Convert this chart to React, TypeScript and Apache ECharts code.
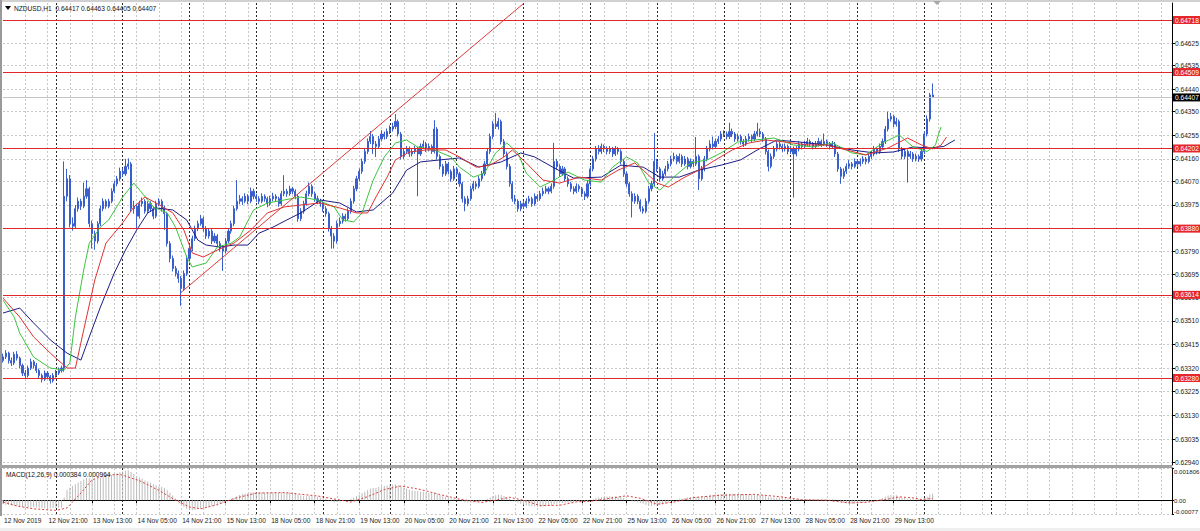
import React, { useEffect, useRef } from "react";
import * as echarts from "echarts";

const FONT = "'Liberation Sans', Arial, sans-serif";

const symbolTitle = "NZDUSD,H1";
const headerQuote = ["0.64417", "0.64463", "0.64405", "0.64407"];
const macdTitle = "MACD(12,26,9)";
const macdQuote = ["0.000384", "0.000964"];
const firstTimeLabel = "12 Nov 2019";

const tradingDays = ["12 Nov", "13 Nov", "14 Nov", "15 Nov", "18 Nov", "19 Nov", "20 Nov", "21 Nov", "22 Nov", "25 Nov", "26 Nov", "27 Nov", "28 Nov", "29 Nov", "2 Dec", "3 Dec", "4 Dec", "5 Dec"];
const firstDayStartHour = 5;
const slotCount = 421;
const lastSeparatorDay = "3 Dec";

// prices in points: value = 0.6 + p * 0.00001
const priceBase = 0.6;
const pointSize = 0.00001;

const opens = [
  3350,3365,3380,3350,3340,3375,3360,3330,3300,3290,
  3320,3345,3330,3310,3290,3275,3300,3285,3270,3290,
  3300,3310,3320,4010,4080,3900,3890,3960,3990,3970,
  4010,4040,3900,3860,3830,3900,3960,3990,3970,3990,
  4030,4060,4080,4110,4100,4130,4140,3960,3970,3930,
  3980,3990,3950,3980,3960,3930,3980,3990,3960,3940,
  3820,3760,3720,3700,3680,3640,3700,3760,3800,3840,
  3880,3900,3920,3880,3850,3870,3830,3850,3820,3800,
  3790,3830,3870,3900,3960,3990,4000,3990,4010,3990,
  4030,4010,4000,3990,4010,4000,3980,4000,4010,4000,
  3980,4020,4030,4020,4040,4030,4010,3920,3950,3980,
  4020,4050,4020,4000,3990,3980,3960,3940,3880,3850,
  3830,3900,3910,3930,3920,3950,3990,4040,4080,4110,
  4150,4190,4230,4250,4220,4210,4240,4260,4250,4270,
  4280,4290,4310,4260,4170,4190,4200,4180,4190,4200,
  4180,4210,4220,4200,4210,4190,4280,4170,4130,4100,
  4140,4110,4080,4120,4100,4060,4000,3980,4000,4040,
  4060,4050,4080,4100,4140,4190,4250,4300,4290,4310,
  4230,4180,4130,4060,4000,3990,3960,3980,3970,3990,
  4000,3980,4010,4000,4020,4030,4040,4030,4050,4150,
  4130,4100,4120,4080,4060,4040,4030,4050,4040,4020,
  4010,4060,4120,4160,4200,4190,4210,4200,4190,4200,
  4180,4200,4190,4150,4100,4060,4020,3990,4010,3990,
  3960,3950,3990,4040,4060,4150,4120,4080,4100,4120,
  4140,4160,4170,4150,4170,4140,4160,4130,4150,4140,
  4170,4080,4120,4160,4200,4220,4210,4230,4240,4260,
  4260,4250,4270,4260,4240,4250,4230,4220,4240,4250,
  4240,4260,4270,4260,4240,4190,4130,4170,4200,4220,
  4210,4200,4210,4190,4200,4180,4200,4220,4210,4220,
  4230,4220,4210,4220,4230,4220,4230,4220,4210,4220,
  4180,4120,4090,4110,4130,4140,4130,4150,4140,4150,
  4160,4150,4170,4180,4200,4190,4210,4230,4280,4320,
  4330,4300,4310,4200,4170,4190,4170,4180,4160,4170,
  4160,4190,4260,4320,4417
];
const closes = [
  3365,3380,3350,3340,3375,3360,3330,3300,3290,3320,
  3345,3330,3310,3290,3275,3300,3285,3270,3290,3300,
  3310,3320,4010,4080,3900,3890,3960,3990,3970,4010,
  4040,3900,3860,3830,3900,3960,3990,3970,3990,4030,
  4060,4080,4110,4100,4130,4140,3960,3970,3930,3980,
  3990,3950,3980,3960,3930,3980,3990,3960,3940,3820,
  3760,3720,3700,3680,3640,3700,3760,3800,3840,3880,
  3900,3920,3880,3850,3870,3830,3850,3820,3800,3790,
  3830,3870,3900,3960,3990,4000,3990,4010,3990,4030,
  4010,4000,3990,4010,4000,3980,4000,4010,4000,3980,
  4020,4030,4020,4040,4030,4010,3920,3950,3980,4020,
  4050,4020,4000,3990,3980,3960,3940,3880,3850,3830,
  3900,3910,3930,3920,3950,3990,4040,4080,4110,4150,
  4190,4230,4250,4220,4210,4240,4260,4250,4270,4280,
  4290,4310,4260,4170,4190,4200,4180,4190,4200,4180,
  4210,4220,4200,4210,4190,4280,4170,4130,4100,4140,
  4110,4080,4120,4100,4060,4000,3980,4000,4040,4060,
  4050,4080,4100,4140,4190,4250,4300,4290,4310,4230,
  4180,4130,4060,4000,3990,3960,3980,3970,3990,4000,
  3980,4010,4000,4020,4030,4040,4030,4050,4150,4130,
  4100,4120,4080,4060,4040,4030,4050,4040,4020,4010,
  4060,4120,4160,4200,4190,4210,4200,4190,4200,4180,
  4200,4190,4150,4100,4060,4020,3990,4010,3990,3960,
  3950,3990,4040,4060,4150,4120,4080,4100,4120,4140,
  4160,4170,4150,4170,4140,4160,4130,4150,4140,4170,
  4080,4120,4160,4200,4220,4210,4230,4240,4260,4260,
  4250,4270,4260,4240,4250,4230,4220,4240,4250,4240,
  4260,4270,4260,4240,4190,4130,4170,4200,4220,4210,
  4200,4210,4190,4200,4180,4200,4220,4210,4220,4230,
  4220,4210,4220,4230,4220,4230,4220,4210,4220,4180,
  4120,4090,4110,4130,4140,4130,4150,4140,4150,4160,
  4150,4170,4180,4200,4190,4210,4230,4280,4320,4330,
  4300,4310,4200,4170,4190,4170,4180,4160,4170,4160,
  4190,4260,4320,4417,4407
];
const highs = [
  3378,3392,3386,3362,3385,3388,3366,3338,3312,3330,
  3358,3352,3340,3318,3298,3310,3308,3292,3300,3312,
  3322,3330,4150,4120,4095,3925,3975,4005,4000,4065,
  4075,4048,3912,3872,3910,3972,4002,3998,4000,4042,
  4072,4092,4125,4122,4160,4162,4148,3992,3980,3992,
  4005,3998,3990,3990,3968,3992,4002,3998,3972,3948,
  3830,3772,3730,3712,3690,3712,3772,3812,3852,3892,
  3912,3935,3928,3890,3882,3878,3862,3858,3830,3812,
  3842,3882,3912,3972,4075,4015,4010,4022,4018,4045,
  4040,4020,4010,4022,4018,4008,4012,4024,4018,4008,
  4032,4095,4040,4052,4048,4038,4018,3962,3992,4032,
  4065,4058,4028,4012,4000,3990,3970,3948,3890,3862,
  3912,3925,3942,3940,3962,4002,4052,4092,4122,4162,
  4202,4242,4272,4260,4232,4252,4275,4270,4282,4295,
  4305,4340,4318,4268,4202,4212,4210,4202,4212,4208,
  4222,4235,4228,4222,4218,4316,4288,4178,4140,4152,
  4148,4118,4132,4128,4108,4068,4010,4012,4052,4072,
  4070,4092,4112,4152,4202,4262,4312,4345,4325,4318,
  4240,4190,4140,4070,4015,3998,3992,3990,4002,4012,
  4008,4022,4018,4032,4045,4052,4048,4062,4224,4160,
  4138,4132,4128,4090,4068,4050,4062,4058,4048,4030,
  4072,4132,4172,4212,4215,4222,4218,4210,4212,4208,
  4212,4208,4198,4158,4110,4068,4030,4022,4018,3998,
  3970,4002,4052,4072,4264,4160,4128,4112,4132,4152,
  4172,4185,4178,4182,4178,4172,4168,4162,4158,4248,
  4178,4132,4172,4212,4235,4250,4242,4252,4272,4275,
  4270,4305,4282,4268,4262,4258,4240,4252,4262,4258,
  4272,4305,4282,4268,4248,4198,4182,4212,4232,4228,
  4220,4222,4218,4212,4210,4212,4232,4228,4232,4245,
  4238,4228,4232,4245,4238,4262,4238,4228,4232,4228,
  4188,4128,4122,4142,4155,4148,4162,4158,4162,4172,
  4168,4182,4192,4212,4208,4222,4242,4292,4350,4345,
  4338,4325,4318,4208,4202,4198,4192,4188,4182,4178,
  4202,4272,4335,4425,4463
];
const lows = [
  3342,3356,3338,3328,3332,3350,3320,3288,3278,3282,
  3312,3318,3300,3280,3262,3268,3276,3258,3262,3282,
  3292,3302,3305,3990,3885,3872,3880,3948,3955,3962,
  4000,3885,3800,3795,3820,3890,3950,3960,3962,3982,
  4022,4050,4072,4088,4092,4118,3948,3940,3878,3920,
  3968,3940,3942,3948,3918,3922,3970,3948,3875,3808,
  3745,3708,3688,3662,3570,3630,3690,3750,3790,3830,
  3870,3892,3868,3838,3840,3818,3822,3808,3788,3710,
  3780,3822,3860,3890,3952,3978,3975,3982,3978,3982,
  3998,3988,3978,3982,3988,3966,3972,3990,3988,3968,
  3972,4010,4008,4012,4018,3998,3908,3910,3940,3972,
  4010,4008,3988,3978,3968,3948,3928,3868,3800,3800,
  3820,3888,3900,3908,3912,3940,3980,4030,4070,4100,
  4140,4180,4220,4180,4168,4200,4230,4238,4240,4260,
  4270,4280,4250,4158,4160,4180,4168,4170,4180,4010,
  4172,4200,4188,4190,4180,4182,4158,4118,4088,4092,
  4098,4068,4072,4088,4048,3985,3950,3970,3992,4030,
  4038,4042,4070,4092,4130,4180,4240,4280,4278,4218,
  4168,4118,4048,3988,3978,3948,3950,3958,3962,3980,
  3968,3972,3988,3992,4010,4020,4018,4022,4040,4118,
  4088,4092,4068,4048,4028,4018,4022,4028,4008,3995,
  4002,4050,4110,4150,4178,4180,4188,4178,4180,4168,
  4172,4178,4138,4088,4048,4008,3925,3980,3978,3948,
  3940,3942,3980,4030,4050,4108,4068,4072,4092,4110,
  4130,4150,4138,4142,4128,4132,4118,4122,4128,4132,
  4035,4072,4110,4150,4190,4198,4200,4220,4230,4248,
  4238,4240,4248,4228,4230,4218,4208,4212,4230,4228,
  4232,4250,4248,4228,4178,4110,4122,4160,4190,4198,
  4188,4190,4178,4180,4005,4170,4190,4198,4200,4210,
  4208,4198,4200,4210,4208,4212,4208,4198,4200,4168,
  4108,4060,4080,4100,4120,4118,4122,4128,4130,4140,
  4138,4142,4160,4170,4178,4180,4200,4220,4270,4310,
  4288,4290,4188,4158,4160,4065,4160,4148,4150,4148,
  4150,4180,4250,4310,4405
];

// Alligator lines: [bar index, points]
const jawSamples: [number, number][] = [
  [0,3541],[6,3561],[11,3501],[17,3433],[23,3380],[28,3352],[31,3445],[35,3565],[40,3702],[44,3794],
  [48,3874],[52,3943],[55,3963],[61,3955],[66,3915],[70,3834],[73,3814],[78,3806],[83,3814],[88,3814],
  [92,3862],[97,3886],[102,3915],[107,3943],[114,3995],[121,3983],[127,3947],[133,3955],[140,4023],[145,4115],
  [150,4148],[157,4156],[164,4164],[171,4127],[179,4148],[186,4184],[191,4168],[198,4124],[205,4083],[215,4087],
  [222,4135],[230,4127],[236,4087],[243,4087],[250,4115],[258,4135],[265,4156],[271,4196],[278,4236],[286,4228],
  [296,4216],[305,4196],[313,4184],[320,4188],[327,4208],[333,4204],[338,4210],[342,4236]
];
const teethSamples: [number, number][] = [
  [0,3601],[6,3525],[11,3445],[17,3380],[23,3320],[26,3320],[29,3473],[33,3674],[37,3822],[43,3903],
  [47,3967],[51,4007],[55,3983],[61,3943],[65,3874],[68,3782],[72,3766],[77,3794],[83,3822],[89,3874],
  [95,3943],[101,3967],[107,3975],[114,3983],[121,3963],[127,3943],[131,3943],[134,4007],[138,4087],[141,4156],
  [146,4188],[152,4196],[159,4196],[164,4168],[170,4127],[175,4135],[180,4168],[183,4196],[188,4144],[194,4075],
  [200,4063],[207,4087],[215,4075],[221,4115],[227,4144],[230,4115],[235,4063],[239,4047],[245,4087],[250,4115],
  [256,4156],[262,4196],[268,4224],[274,4236],[281,4228],[289,4216],[296,4216],[303,4196],[310,4176],[318,4204],
  [325,4244],[330,4216],[334,4200],[337,4215],[339,4248]
];
const lipsSamples: [number, number][] = [
  [0,3593],[4,3525],[6,3461],[11,3364],[17,3320],[22,3312],[24,3340],[26,3525],[29,3714],[31,3822],
  [35,3886],[38,3915],[43,4007],[47,4063],[50,4023],[54,3967],[59,3943],[62,3886],[66,3766],[68,3726],
  [73,3742],[77,3806],[82,3822],[85,3846],[90,3955],[95,3983],[101,3995],[107,4007],[113,3995],[119,3967],
  [122,3915],[126,3907],[129,3943],[133,4075],[137,4168],[141,4224],[145,4236],[149,4208],[155,4196],[161,4168],
  [164,4127],[169,4087],[173,4103],[177,4184],[181,4224],[185,4184],[188,4103],[193,4047],[198,4075],[203,4107],
  [209,4075],[215,4067],[219,4127],[224,4168],[228,4144],[232,4063],[236,4035],[241,4087],[247,4144],[253,4156],
  [258,4184],[264,4228],[270,4236],[277,4244],[284,4216],[291,4208],[298,4224],[305,4184],[310,4176],[316,4224],
  [322,4256],[327,4208],[332,4190],[335,4215],[336,4255],[337,4288]
];

const priceTicks = [0.6294, 0.63035, 0.6313, 0.63225, 0.6332, 0.63415, 0.6351, 0.63605, 0.63695, 0.6379, 0.6388, 0.63975, 0.6407, 0.6416, 0.64255, 0.6435, 0.6444, 0.64535, 0.64625];
const priceMin = 0.629306;
const priceMax = 0.647863;
const levels = [0.64718, 0.64509, 0.64202, 0.6388, 0.63614, 0.6328];
const trendStart: [number, number] = [64, 0.63624];
const trendEnd: [number, number] = [187, 0.64784];

// MACD in millionths
const macdUnit = 1e-6;
const macdHist = [
  -230,-250,-270,-300,-300,-310,-330,-360,-390,-400,
  -390,-390,-400,-420,-440,-440,-440,-450,-440,-430,
  -420,-400,150,560,700,800,900,1000,1080,1160,
  1240,1230,1200,1180,1200,1250,1300,1340,1380,1420,
  1470,1520,1570,1610,1650,1700,1580,1480,1360,1280,
  1200,1110,1050,980,900,850,800,740,680,560,
  420,260,100,-60,-230,-380,-480,-540,-560,-540,
  -500,-470,-430,-400,-360,-330,-290,-250,-200,-160,
  -90,-20,50,140,230,300,350,380,400,430,
  440,450,450,450,440,440,440,440,430,420,
  430,430,430,430,420,400,310,260,230,230,
  250,240,220,190,160,130,90,20,-60,-120,
  -100,-70,-30,-10,20,80,160,240,320,400,
  480,570,640,680,700,740,780,800,830,860,
  880,900,860,760,700,650,600,560,530,500,
  480,470,440,420,390,430,360,290,220,190,
  150,100,80,50,0,-60,-110,-130,-130,-120,
  -110,-80,-50,10,80,160,240,280,320,290,
  240,180,100,20,-60,-140,-200,-250,-290,-320,
  -340,-350,-360,-360,-350,-340,-320,-300,-220,-190,
  -170,-150,-140,-130,-120,-110,-100,-90,-90,-80,
  -60,0,60,120,150,180,200,210,220,210,
  210,200,170,120,60,0,-50,-80,-110,-150,
  -200,-250,-290,-320,-300,-290,-280,-240,-180,-120,
  -60,-10,30,60,90,120,150,170,190,200,
  180,190,220,250,280,300,320,340,350,360,
  360,360,360,360,350,350,350,340,330,320,
  310,300,290,280,250,190,170,160,160,150,
  120,110,100,90,70,60,60,60,60,60,
  60,60,60,60,60,60,60,60,60,40,
  -30,-90,-140,-170,-180,-190,-190,-180,-160,-140,
  -120,-90,-60,-20,20,70,130,200,260,300,
  280,280,200,140,120,90,80,60,60,50,
  70,130,210,320,384
];
const macdSignalSamples: [number, number][] = [
  [0,-100],[5,-320],[11,-480],[19,-570],[23,-430],[28,410],[32,1150],[37,1400],[42,1450],[49,1100],
  [56,550],[62,0],[67,-380],[71,-480],[77,-250],[83,100],[91,400],[101,430],[113,240],[125,-100],
  [131,200],[137,600],[143,800],[150,600],[157,320],[164,60],[172,-120],[177,0],[182,170],[187,0],
  [193,-300],[200,-280],[206,-90],[211,-60],[218,110],[224,250],[229,110],[235,-220],[241,-100],[248,150],
  [258,280],[270,330],[279,200],[287,30],[296,0],[304,-150],[310,-120],[317,40],[322,190],[327,130],
  [330,40],[334,110]
];
const macdTicks = [-0.00077, 0, 0.001806];
const macdTickLabels = ["-0.00077", "0.00", "0.001806"];

const toPrice = (p: number) => +(priceBase + p * pointSize).toFixed(5);

function buildCategories(): string[] {
  const out: string[] = [];
  tradingDays.forEach((d, di) => {
    for (let h = di === 0 ? firstDayStartHour : 0; h < 24; h++) {
      if (out.length < slotCount) out.push(`${d} ${String(h).padStart(2, "0")}:00`);
    }
  });
  return out;
}

export default function App() {
  const ref = useRef<HTMLDivElement>(null);
  useEffect(() => {
    if (!ref.current) return;
    const chart = echarts.init(ref.current, null, { renderer: "svg" });
    const cats = buildCategories();
    const barCount = closes.length;
    const lastSepIndex = cats.indexOf(`${lastSeparatorDay} 00:00`);
    const gridInt = (i: number) => i > 0 && i % 8 === 0;
    const sepInt = (i: number, v: string) => i > 0 && i <= lastSepIndex && String(v).endsWith(" 00:00");
    const labelInt = (i: number) => i % 16 === 0 && i < barCount;
    const candles = closes.map((c, i) => [toPrice(opens[i]), toPrice(c), toPrice(lows[i]), toPrice(highs[i])]);
    const toLine = (s: [number, number][]) => s.map(([i, p]) => [i, toPrice(p)]);
    const lastClose = toPrice(closes[barCount - 1]);
    const blue = "#3a5fcd";
    const levelRed = "#e02828";
    const gridLine = { color: "#c9c9c9", type: [2, 2] as number[], width: 1 };
    const sepLine = { color: "#2a2a2a", type: [2, 2] as number[], width: 1 };
    const tagLabel = (bg: string) => ({
      show: true,
      position: "end",
      distance: 1,
      backgroundColor: bg,
      color: "#fff",
      fontSize: 6.6,
      fontFamily: FONT,
      lineHeight: 7,
      padding: [1, 3, 0, 2],
    });
    const hiddenCat = (gridIndex: number, interval: any, line: any, position: string) => ({
      type: "category",
      gridIndex,
      data: cats,
      boundaryGap: false,
      position,
      axisLine: { show: false },
      axisTick: { show: false },
      axisLabel: { show: false },
      splitLine: { show: true, interval, lineStyle: line },
    });
    const option: any = {
      animation: false,
      backgroundColor: "#ffffff",
      textStyle: { fontFamily: FONT },
      grid: [
        { left: 3, top: 3, width: 1169, height: 462, show: false, outerBoundsMode: "none" },
        { left: 3, top: 468, width: 1169, height: 46, show: false, outerBoundsMode: "none" },
      ],
      xAxis: [
        hiddenCat(0, gridInt, gridLine, "bottom"),
        hiddenCat(0, sepInt, sepLine, "top"),
        {
          type: "category",
          gridIndex: 1,
          data: cats,
          boundaryGap: false,
          position: "bottom",
          axisLine: { show: true, lineStyle: { color: "#000", width: 1 } },
          axisTick: { show: true, interval: labelInt, length: 3, lineStyle: { color: "#000" } },
          axisLabel: {
            show: true,
            interval: labelInt,
            formatter: (v: string, i: number) => (i === 0 ? firstTimeLabel : v),
            align: "left",
            fontSize: 6.6,
            color: "#222",
            margin: 3,
            padding: [0, 0, 0, 1],
            fontFamily: FONT,
          },
          splitLine: { show: true, interval: gridInt, lineStyle: gridLine },
        },
        hiddenCat(1, sepInt, sepLine, "top"),
      ],
      yAxis: [
        {
          type: "value",
          gridIndex: 0,
          position: "right",
          min: priceMin,
          max: priceMax,
          axisLine: { show: true, lineStyle: { color: "#000", width: 1 } },
          axisTick: { show: true, length: 3, customValues: priceTicks, lineStyle: { color: "#000" } },
          axisLabel: {
            show: true,
            customValues: priceTicks,
            formatter: (v: number) => v.toFixed(5),
            fontSize: 6.6,
            color: "#222",
            margin: 3,
            fontFamily: FONT,
          },
          splitLine: { show: true, lineStyle: gridLine },
        },
        {
          type: "value",
          gridIndex: 1,
          position: "right",
          min: macdTicks[0],
          max: macdTicks[2],
          axisLine: { show: true, lineStyle: { color: "#000", width: 1 } },
          axisTick: { show: true, length: 2, customValues: macdTicks, lineStyle: { color: "#000" } },
          axisLabel: {
            show: true,
            customValues: macdTicks,
            formatter: (v: number) => {
              const k = macdTicks.findIndex((t) => Math.abs(t - v) < 1e-9);
              return k >= 0 ? macdTickLabels[k] : "";
            },
            verticalAlignMinLabel: "bottom",
            verticalAlignMaxLabel: "top",
            fontSize: 6.1,
            color: "#222",
            margin: 2,
            fontFamily: FONT,
          },
          splitLine: { show: true, lineStyle: gridLine },
        },
      ],
      series: [
        {
          type: "candlestick",
          xAxisIndex: 0,
          yAxisIndex: 0,
          data: candles,
          barWidth: 1.6,
          itemStyle: { color: blue, color0: blue, borderColor: blue, borderColor0: blue, borderWidth: 1 },
          z: 2,
        },
        {
          type: "line",
          xAxisIndex: 0,
          yAxisIndex: 0,
          data: toLine(jawSamples),
          symbol: "none",
          lineStyle: { color: "#1c1c86", width: 1 },
          z: 3,
          markLine: {
            silent: true,
            precision: 5,
            symbol: ["none", "none"],
            animation: false,
            data: [
              {
                yAxis: lastClose,
                lineStyle: { color: "#c4c4c4", width: 1, type: "solid" },
                label: { ...tagLabel("#000000"), formatter: lastClose.toFixed(5) },
              },
            ],
          },
        },
        {
          type: "line",
          xAxisIndex: 0,
          yAxisIndex: 0,
          data: toLine(teethSamples),
          symbol: "none",
          color: levelRed,
          lineStyle: { color: "#e03232", width: 1 },
          z: 4,
          markLine: {
            silent: true,
            precision: 5,
            symbol: ["none", "none"],
            animation: false,
            lineStyle: { color: levelRed, width: 1, type: "solid" },
            data: [
              ...levels.map((v) => ({
                yAxis: v,
                lineStyle: { color: levelRed, width: 1, type: "solid", opacity: 1 },
                label: { ...tagLabel("#e5262a"), formatter: v.toFixed(5) },
              })),
              [
                { coord: trendStart, lineStyle: { color: "#dd3a3a", width: 1, type: "solid" }, label: { show: false } },
                { coord: trendEnd },
              ],
            ],
          },
        },
        {
          type: "line",
          xAxisIndex: 0,
          yAxisIndex: 0,
          data: toLine(lipsSamples),
          symbol: "none",
          lineStyle: { color: "#3cc43c", width: 1 },
          z: 3,
        },
        {
          type: "bar",
          xAxisIndex: 2,
          yAxisIndex: 1,
          data: macdHist.map((v) => v * macdUnit),
          barWidth: 1,
          itemStyle: { color: "#bcbcbc" },
        },
        {
          type: "line",
          xAxisIndex: 2,
          yAxisIndex: 1,
          data: macdSignalSamples.map(([i, v]) => [i, v * macdUnit]),
          symbol: "none",
          lineStyle: { color: "#d84040", width: 1, type: [2, 2] },
          z: 3,
        },
      ],
      graphic: [
        { type: "rect", shape: { x: 0, y: 0, width: 1200, height: 2 }, style: { fill: "#d0d0d0" }, z: 10 },
        { type: "rect", shape: { x: 0, y: 0, width: 2, height: 516 }, style: { fill: "#9a9a9a" }, z: 10 },
        { type: "rect", shape: { x: 0, y: 465, width: 1172, height: 3 }, style: { fill: "#a2a2a2" }, z: 10 },
        { type: "rect", shape: { x: 0, y: 528, width: 1200, height: 3 }, style: { fill: "#efefef" }, z: 10 },
        { type: "polygon", shape: { points: [[933, 1], [941, 1], [937, 5]] }, style: { fill: "#a8a8a8" }, z: 10 },
        { type: "polygon", shape: { points: [[5, 6], [11, 6], [8, 10]] }, style: { fill: "#000" }, z: 10 },
        {
          type: "text",
          x: 14,
          y: 8,
          style: { text: `${symbolTitle}  ${headerQuote.join(" ")}`, fill: "#111", fontSize: 6.6, fontFamily: FONT, verticalAlign: "middle" },
          z: 10,
        },
        {
          type: "text",
          x: 6,
          y: 474,
          style: { text: `${macdTitle} ${macdQuote.join(" ")}`, fill: "#111", fontSize: 6.6, fontFamily: FONT, verticalAlign: "middle" },
          z: 10,
        },
      ],
    };
    chart.setOption(option);
    return () => chart.dispose();
  }, []);
  return (
    <div
      ref={ref}
      style={{ position: "fixed", left: 0, top: 0, width: 1200, height: 531, background: "#fff" }}
    />
  );
}
